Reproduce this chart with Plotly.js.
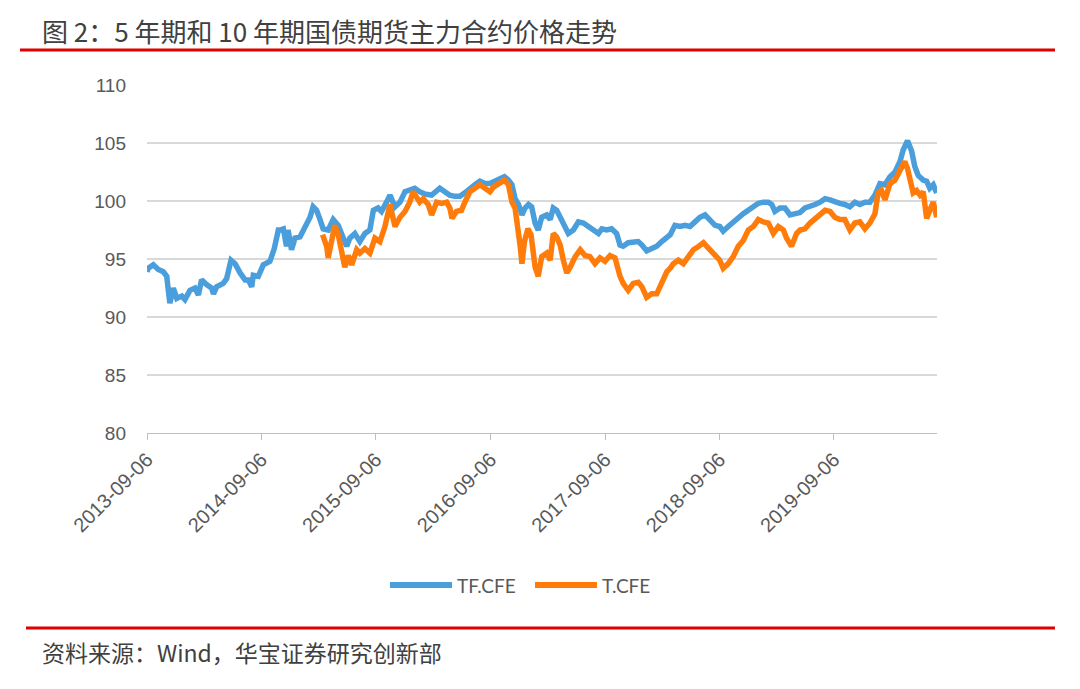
<!DOCTYPE html>
<html>
<head>
<meta charset="utf-8">
<script src="https://cdn.plot.ly/plotly-3.0.1.min.js"></script>
<style>
html,body{margin:0;padding:0;background:#fff;}
#chart{width:1080px;height:689px;}
</style>
</head>
<body>
<div id="chart"></div>
<script>
const titleText = "图 2：5 年期和 10 年期国债期货主力合约价格走势";
const sourceText = "资料来源：Wind，华宝证券研究创新部";
const seriesNames = ["TF.CFE", "T.CFE"];
const tickDates = ["2013-09-06","2014-09-06","2015-09-06","2016-09-06","2017-09-06","2018-09-06","2019-09-06"];
const tickLabels = ["2013-09-06","2014-09-06","2015-09-06","2016-09-06","2017-09-06","2018-09-06","2019-09-06"];
const yTicks = [80,85,90,95,100,105,110];

const tfDates = [
"2013-09-06","2013-09-10","2013-09-26","2013-10-12","2013-10-28","2013-11-08","2013-11-13","2013-11-18","2013-11-29","2013-12-10","2013-12-26",
"2014-01-05","2014-01-21","2014-02-06","2014-02-17","2014-02-27","2014-03-15","2014-03-31","2014-04-06","2014-04-16","2014-05-07","2014-05-18","2014-06-01","2014-06-14","2014-06-30","2014-07-16","2014-07-26","2014-08-06","2014-08-11","2014-08-27",
"2014-09-12","2014-10-03","2014-10-17","2014-10-30","2014-11-04","2014-11-15","2014-11-25","2014-11-30","2014-12-11","2014-12-22",
"2015-01-07","2015-01-23","2015-02-08","2015-02-18","2015-03-01","2015-03-12","2015-03-22","2015-04-07","2015-04-23","2015-05-09","2015-05-20","2015-06-05","2015-06-15","2015-07-01","2015-07-17","2015-08-02","2015-08-18","2015-08-29",
"2015-09-13","2015-09-24","2015-10-10","2015-10-21","2015-11-06","2015-11-22","2015-12-08","2015-12-23",
"2016-01-08","2016-01-24","2016-02-09","2016-03-02","2016-03-18","2016-03-28","2016-04-13","2016-04-29","2016-05-15","2016-05-31","2016-06-16","2016-07-02","2016-07-18","2016-08-03","2016-08-19","2016-09-04",
"2016-09-20","2016-10-06","2016-10-20","2016-11-02","2016-11-13","2016-11-23","2016-12-04","2016-12-15","2016-12-25",
"2017-01-05","2017-01-15","2017-01-26","2017-02-05","2017-02-16","2017-03-04","2017-03-15","2017-03-25","2017-04-05","2017-04-16","2017-04-26","2017-05-12","2017-05-28","2017-06-13","2017-06-29","2017-07-15","2017-07-31","2017-08-16","2017-08-27",
"2017-09-11","2017-09-27","2017-10-13","2017-10-24","2017-11-03","2017-11-19","2017-12-05","2017-12-21",
"2018-01-02","2018-01-17","2018-02-02","2018-02-18","2018-03-06","2018-03-22","2018-04-02","2018-04-17","2018-05-03","2018-05-19","2018-06-04","2018-06-20","2018-07-06","2018-07-22","2018-08-07","2018-08-23",
"2018-09-07","2018-09-18","2018-10-04","2018-10-20","2018-11-05","2018-11-21","2018-12-07","2018-12-23",
"2019-01-08","2019-01-24","2019-02-09","2019-02-20","2019-03-02","2019-03-18","2019-04-03","2019-04-19","2019-05-05","2019-05-21","2019-06-06","2019-06-22","2019-07-08","2019-07-24","2019-08-09","2019-08-25",
"2019-09-09","2019-09-25","2019-10-11","2019-10-27","2019-11-12","2019-11-28","2019-12-14","2019-12-30",
"2020-01-15","2020-01-31","2020-02-16","2020-03-03","2020-03-19","2020-04-04","2020-04-14","2020-04-28","2020-05-11","2020-05-21","2020-06-01","2020-06-17","2020-06-28","2020-07-08","2020-07-19","2020-07-30"
];
const tfValues = [
93.9,94.2,94.5,94.1,93.9,93.5,92.3,91.2,92.5,91.6,91.8,
91.5,92.3,92.5,91.9,93.2,92.8,92.5,92.0,92.6,92.9,93.3,94.9,94.6,93.8,93.2,93.2,92.6,93.6,93.5,
94.5,94.8,95.9,97.5,97.5,97.6,96.1,97.5,95.8,96.8,
96.9,97.8,98.6,99.5,99.2,98.4,97.6,97.5,98.4,97.9,97.1,96.1,96.8,97.2,96.5,97.2,97.5,99.2,
99.4,99.1,99.9,100.5,99.5,99.9,100.8,101.0,
101.1,100.8,100.6,100.5,100.8,101.1,100.8,100.5,100.4,100.4,100.7,101.1,101.4,101.7,101.5,101.5,
101.7,101.9,102.1,101.8,101.4,100.2,99.7,98.8,99.4,
99.7,99.5,98.1,97.5,98.6,98.8,98.4,99.4,99.2,98.6,97.9,97.2,97.5,98.2,98.1,97.8,97.6,97.2,97.6,
97.5,97.6,97.2,96.2,96.1,96.4,96.4,96.5,
96.2,95.7,95.9,96.1,96.5,96.9,97.1,97.9,97.8,97.9,97.8,98.2,98.6,98.8,98.4,97.9,
97.8,97.4,97.8,98.2,98.6,98.9,99.2,99.5,
99.8,99.9,99.9,99.7,99.1,99.4,99.4,98.8,98.9,99.0,99.4,99.5,99.7,99.9,100.2,100.1,
99.9,99.8,99.7,99.5,99.9,99.7,99.9,99.9,
100.5,101.5,101.4,102.1,102.5,103.4,104.4,105.2,104.3,103.0,102.2,101.8,101.7,101.1,101.4,100.7
];

const tDates = [
"2015-03-20","2015-04-02","2015-04-07","2015-04-18","2015-04-28","2015-05-09","2015-05-20","2015-05-30","2015-06-10","2015-06-21","2015-07-07","2015-07-17","2015-08-02","2015-08-18","2015-09-03",
"2015-09-19","2015-10-05","2015-10-21","2015-11-06","2015-11-22","2015-12-08","2015-12-23",
"2016-01-03","2016-01-14","2016-01-24","2016-02-04","2016-02-20","2016-03-02","2016-03-18","2016-04-03","2016-04-19","2016-04-29","2016-05-06","2016-05-20","2016-06-05","2016-06-16","2016-07-02","2016-07-18","2016-08-03","2016-08-19","2016-09-04",
"2016-09-15","2016-10-03","2016-10-20","2016-11-02","2016-11-13","2016-11-23","2016-12-04","2016-12-09","2016-12-15","2016-12-23",
"2017-01-03","2017-01-13","2017-01-26","2017-02-05","2017-02-16","2017-03-04","2017-03-15","2017-03-25","2017-04-05","2017-04-16","2017-04-26","2017-05-07","2017-05-18","2017-06-03","2017-06-19","2017-07-04","2017-07-20","2017-08-05","2017-08-21",
"2017-09-06","2017-09-22","2017-10-08","2017-10-24","2017-11-03","2017-11-19","2017-12-05","2017-12-21",
"2018-01-02","2018-01-17","2018-02-02","2018-02-18","2018-02-28","2018-03-11","2018-03-22","2018-04-02","2018-04-12","2018-04-28","2018-05-14","2018-05-30","2018-06-15","2018-07-02","2018-07-17","2018-07-27","2018-08-12","2018-08-28",
"2018-09-07","2018-09-18","2018-10-04","2018-10-20","2018-11-05","2018-11-21","2018-12-07","2018-12-23",
"2019-01-08","2019-01-24","2019-02-09","2019-02-25","2019-03-13","2019-03-29","2019-04-08","2019-04-24","2019-05-10","2019-05-21","2019-06-06","2019-06-22","2019-07-08","2019-07-24","2019-08-09","2019-08-25",
"2019-09-09","2019-09-25","2019-10-11","2019-10-27","2019-11-12","2019-11-28","2019-12-14","2019-12-30",
"2020-01-15","2020-01-25","2020-02-05","2020-02-16","2020-03-03","2020-03-19","2020-04-04","2020-04-19","2020-04-28","2020-05-05","2020-05-16","2020-05-27","2020-06-07","2020-06-17","2020-06-28","2020-07-08","2020-07-19","2020-07-30"
];
const tValues = [
97.1,96.1,95.1,96.9,97.9,97.1,95.8,94.3,95.3,94.5,95.8,95.5,95.9,95.5,96.8,
96.5,97.8,99.7,97.8,98.6,99.1,99.9,
100.8,100.4,99.9,100.2,99.7,98.8,99.9,99.8,99.9,99.4,98.5,99.1,99.2,99.9,100.8,101.1,101.4,101.1,100.8,
101.2,101.5,101.8,101.4,99.9,99.4,97.6,96.2,94.6,96.5,
97.6,97.1,94.3,93.5,95.2,95.5,94.9,97.2,96.9,96.2,94.9,93.8,94.3,95.2,95.8,95.3,95.2,94.6,95.1,
94.8,95.3,95.1,93.5,92.9,92.3,92.9,93.0,
92.6,91.7,92.0,92.0,92.6,93.0,93.9,94.2,94.6,94.9,94.6,95.2,95.8,96.1,96.4,96.1,95.7,95.3,
94.9,94.2,94.6,95.2,96.1,96.6,97.5,97.8,
98.4,98.2,98.1,97.2,97.8,97.5,96.8,96.1,97.2,97.5,97.6,98.1,98.5,98.9,99.2,99.1,
98.6,98.4,98.4,97.5,98.1,98.2,97.6,98.1,
98.9,100.7,100.9,100.1,101.5,101.8,102.7,103.4,102.8,101.8,100.7,100.9,100.5,100.8,98.5,99.2,99.9,98.6
];

const colors = ["#4a9edb", "#ff7c0a"];
const L = 147, R = 937, T = 85, B = 433;
const W = R - L, H = B - T;
const px = x => (x - L) / W;
const py = y => (B - y) / H;

const traces = [
  {x: tfDates, y: tValuesFix(tfValues), name: seriesNames[0], type: "scatter", mode: "lines",
   line: {color: colors[0], width: 5.5}, showlegend: false},
  {x: tDates, y: tValuesFix(tValues), name: seriesNames[1], type: "scatter", mode: "lines",
   line: {color: colors[1], width: 5.5}, showlegend: false}
];
function tValuesFix(v) { return v; }

// custom legend (longer line samples, as in the reference)
const legendItems = [
  {x0: 390, x1: 452, tx: 455},
  {x0: 535, x1: 597, tx: 600}
];
const legendShapes = legendItems.map((it, i) => ({
  type: "line", xref: "paper", yref: "paper",
  x0: px(it.x0), x1: px(it.x1), y0: py(585), y1: py(585),
  line: {color: colors[i], width: 6}
}));
const legendAnns = legendItems.map((it, i) => ({
  text: seriesNames[i], xref: "paper", yref: "paper", x: px(it.tx), y: py(585),
  xanchor: "left", yanchor: "middle", showarrow: false,
  font: {family: "Lato, Liberation Sans, sans-serif", size: 19, color: "#595959"}
}));

const layout = {
  width: 1080, height: 689,
  paper_bgcolor: "#ffffff", plot_bgcolor: "#ffffff",
  margin: {l: L, r: 1080 - R, t: T, b: 689 - B, pad: 0},
  font: {family: "Liberation Sans, Arial, sans-serif", color: "#595959"},
  showlegend: false,
  xaxis: {
    type: "date", range: ["2013-09-06", "2020-07-31"],
    tickmode: "array", tickvals: tickDates, ticktext: tickLabels,
    tickangle: -45, tickfont: {size: 20, color: "#595959"},
    ticks: "outside", ticklen: 6, tickcolor: "#bfbfbf", tickwidth: 1,
    showline: true, linecolor: "#bfbfbf", linewidth: 1,
    showgrid: false, zeroline: false, fixedrange: true
  },
  yaxis: {
    range: [80, 110], tickmode: "array", tickvals: yTicks,
    tickfont: {size: 19, color: "#595959"},
    showgrid: true, gridcolor: "#d9d9d9", gridwidth: 1.5,
    showline: false, zeroline: false, ticks: "", ticklabelstandoff: 20,
    fixedrange: true
  },
  shapes: [
    {type: "line", xref: "paper", yref: "paper", x0: px(20), x1: px(1055), y0: py(50), y1: py(50),
     line: {color: "#e00000", width: 3}},
    {type: "line", xref: "paper", yref: "paper", x0: px(26), x1: px(1055), y0: py(628), y1: py(628),
     line: {color: "#e00000", width: 3}}
  ].concat(legendShapes),
  annotations: [
    {text: titleText, xref: "paper", yref: "paper", x: px(40), y: py(30), xanchor: "left", yanchor: "middle",
     showarrow: false, font: {family: "Noto Sans CJK SC, sans-serif", size: 26, color: "#404040"}},
    {text: sourceText, xref: "paper", yref: "paper", x: px(40), y: py(652), xanchor: "left", yanchor: "middle",
     showarrow: false, font: {family: "Noto Sans CJK SC, sans-serif", size: 23, color: "#404040"}}
  ].concat(legendAnns)
};

Plotly.newPlot("chart", traces, layout, {displayModeBar: false, staticPlot: true});
</script>
</body>
</html>
